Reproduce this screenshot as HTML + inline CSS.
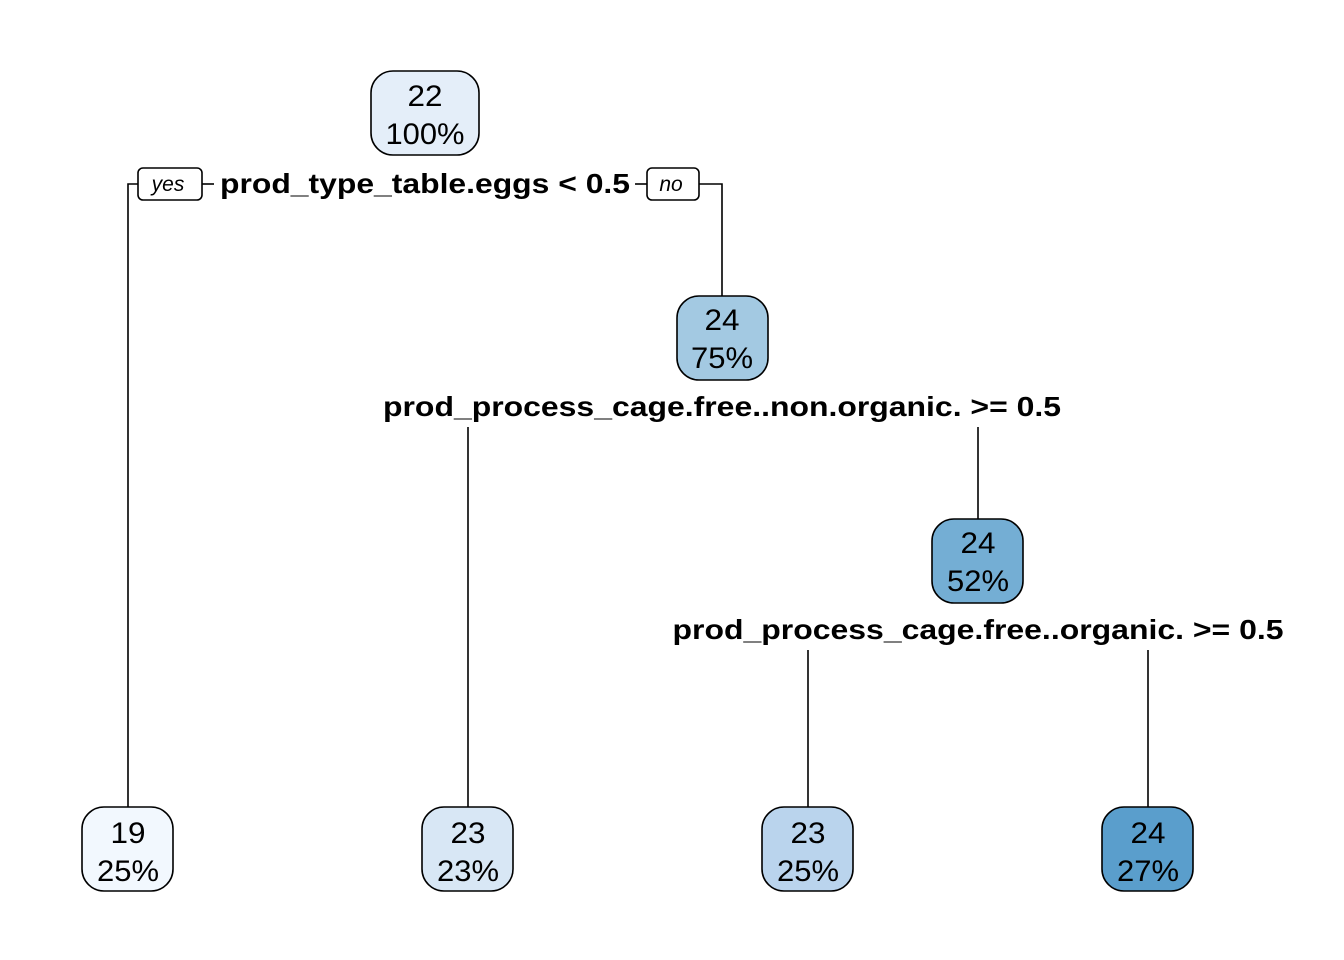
<!DOCTYPE html>
<html><head><meta charset="utf-8"><style>
html,body{margin:0;padding:0;background:#fff;}
svg{display:block;}
.n{font-family:"Liberation Sans",sans-serif;font-size:30px;fill:#000;text-anchor:middle;}
.s{font-family:"Liberation Sans",sans-serif;font-size:28px;font-weight:bold;fill:#000;text-anchor:middle;}
.yn{font-family:"Liberation Sans",sans-serif;font-size:21px;font-style:italic;fill:#000;text-anchor:middle;}
rect.b{stroke:#000;stroke-width:1.6;}
line,polyline{stroke:#000;stroke-width:1.6;fill:none;}
</style></head><body>
<svg width="1344" height="960" viewBox="0 0 1344 960" xmlns="http://www.w3.org/2000/svg">
<polyline points="138,184 128,184 128,807"/>
<line x1="202" y1="184" x2="214" y2="184"/>
<line x1="635" y1="184" x2="647" y2="184"/>
<polyline points="699,184 722,184 722,296"/>
<line x1="468" y1="427" x2="468" y2="807"/>
<line x1="978" y1="427" x2="978" y2="519"/>
<line x1="808" y1="650" x2="808" y2="807"/>
<line x1="1148" y1="650" x2="1148" y2="807"/>
<rect class="b" x="138" y="168" width="64" height="32" rx="5" fill="#fff"/>
<text class="yn" x="168" y="191">yes</text>
<rect class="b" x="647" y="168" width="52" height="32" rx="5" fill="#fff"/>
<text class="yn" x="671" y="191">no</text>
<text class="s" x="425" y="193" textLength="410" lengthAdjust="spacingAndGlyphs">prod_type_table.eggs &lt; 0.5</text>
<text class="s" x="722" y="416" textLength="678" lengthAdjust="spacingAndGlyphs">prod_process_cage.free..non.organic. &gt;= 0.5</text>
<text class="s" x="978" y="639" textLength="611" lengthAdjust="spacingAndGlyphs">prod_process_cage.free..organic. &gt;= 0.5</text>
<rect class="b" x="371" y="71" width="108" height="84" rx="22" fill="#e4eef9"/>
<text class="n" x="425" y="106" textLength="35" lengthAdjust="spacingAndGlyphs">22</text><text class="n" x="425" y="144" textLength="79" lengthAdjust="spacingAndGlyphs">100%</text>
<rect class="b" x="677" y="296" width="91" height="84" rx="22" fill="#a3c9e2"/>
<text class="n" x="722" y="330" textLength="35" lengthAdjust="spacingAndGlyphs">24</text><text class="n" x="722" y="368" textLength="62" lengthAdjust="spacingAndGlyphs">75%</text>
<rect class="b" x="932" y="519" width="91" height="84" rx="22" fill="#74aed4"/>
<text class="n" x="978" y="553" textLength="35" lengthAdjust="spacingAndGlyphs">24</text><text class="n" x="978" y="591" textLength="62" lengthAdjust="spacingAndGlyphs">52%</text>
<rect class="b" x="82" y="807" width="91" height="84" rx="22" fill="#f2f8fe"/>
<text class="n" x="128" y="843" textLength="35" lengthAdjust="spacingAndGlyphs">19</text><text class="n" x="128" y="881" textLength="62" lengthAdjust="spacingAndGlyphs">25%</text>
<rect class="b" x="422" y="807" width="91" height="84" rx="22" fill="#d8e7f5"/>
<text class="n" x="468" y="843" textLength="35" lengthAdjust="spacingAndGlyphs">23</text><text class="n" x="468" y="881" textLength="62" lengthAdjust="spacingAndGlyphs">23%</text>
<rect class="b" x="762" y="807" width="91" height="84" rx="22" fill="#bad4ed"/>
<text class="n" x="808" y="843" textLength="35" lengthAdjust="spacingAndGlyphs">23</text><text class="n" x="808" y="881" textLength="62" lengthAdjust="spacingAndGlyphs">25%</text>
<rect class="b" x="1102" y="807" width="91" height="84" rx="22" fill="#5a9ecc"/>
<text class="n" x="1148" y="843" textLength="35" lengthAdjust="spacingAndGlyphs">24</text><text class="n" x="1148" y="881" textLength="62" lengthAdjust="spacingAndGlyphs">27%</text>
</svg>
</body></html>
